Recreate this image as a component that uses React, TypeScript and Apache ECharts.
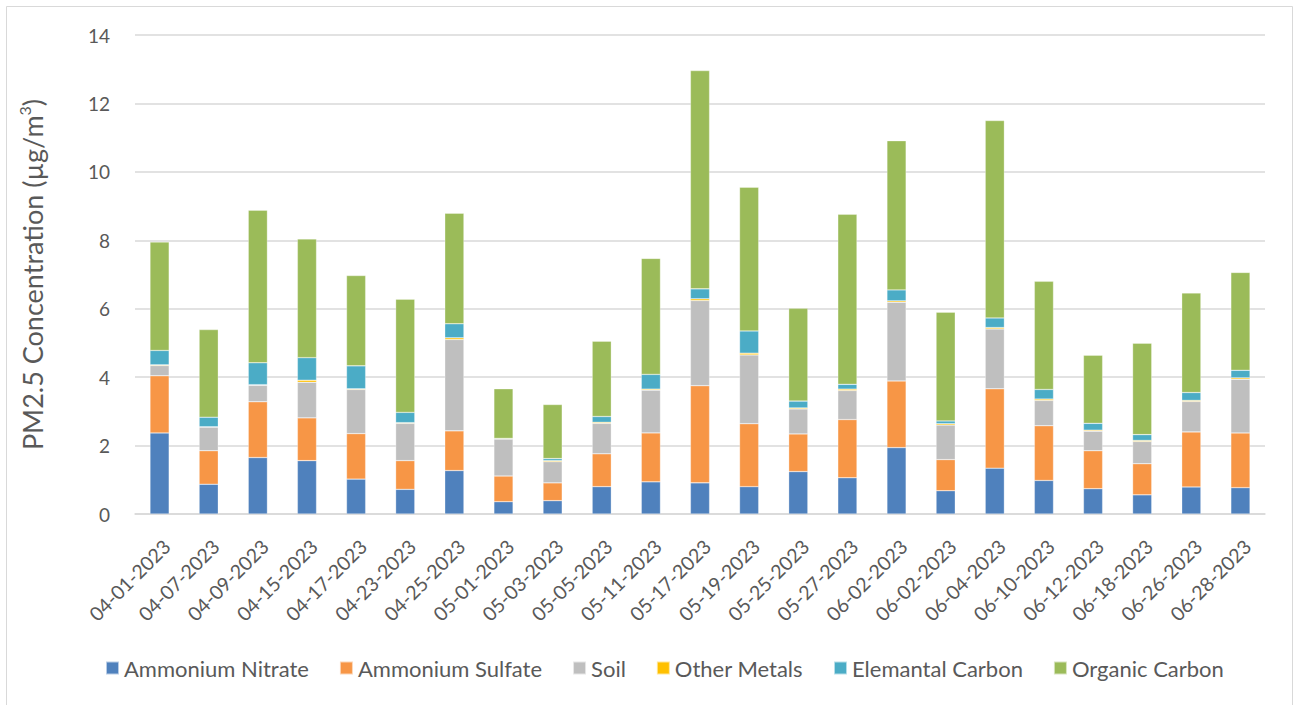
import React, { useEffect, useRef } from "react";
import * as echarts from "echarts";

const categories = [
  "04-01-2023", "04-07-2023", "04-09-2023", "04-15-2023", "04-17-2023", "04-23-2023",
  "04-25-2023", "05-01-2023", "05-03-2023", "05-05-2023", "05-11-2023", "05-17-2023",
  "05-19-2023", "05-25-2023", "05-27-2023", "06-02-2023", "06-02-2023", "06-04-2023",
  "06-10-2023", "06-12-2023", "06-18-2023", "06-26-2023", "06-28-2023",
];

const ammoniumNitrate = [2.37, 0.87, 1.65, 1.56, 1.02, 0.72, 1.27, 0.36, 0.39, 0.80, 0.94, 0.91, 0.80, 1.24, 1.06, 1.94, 0.68, 1.34, 0.98, 0.74, 0.56, 0.79, 0.77];
const ammoniumSulfate = [1.67, 0.98, 1.63, 1.25, 1.33, 0.84, 1.16, 0.75, 0.52, 0.96, 1.43, 2.84, 1.84, 1.10, 1.70, 1.95, 0.91, 2.32, 1.60, 1.11, 0.91, 1.61, 1.60];
const soil = [0.30, 0.69, 0.48, 1.04, 1.29, 1.09, 2.67, 1.08, 0.62, 0.89, 1.25, 2.49, 2.01, 0.73, 0.85, 2.30, 1.01, 1.75, 0.74, 0.57, 0.65, 0.89, 1.57];
const otherMetals = [0.02, 0.01, 0.02, 0.06, 0.02, 0.02, 0.05, 0.01, 0.03, 0.03, 0.03, 0.05, 0.05, 0.03, 0.04, 0.04, 0.04, 0.04, 0.04, 0.03, 0.03, 0.03, 0.04];
const elementalCarbon = [0.42, 0.28, 0.64, 0.66, 0.67, 0.30, 0.41, 0.01, 0.06, 0.17, 0.43, 0.29, 0.65, 0.20, 0.14, 0.32, 0.08, 0.28, 0.28, 0.20, 0.17, 0.23, 0.22];
const organicCarbon = [3.17, 2.56, 4.46, 3.47, 2.64, 3.31, 3.23, 1.45, 1.58, 2.20, 3.39, 6.38, 4.20, 2.71, 4.97, 4.36, 3.18, 5.77, 3.16, 1.99, 2.67, 2.91, 2.86];

const seriesNames = ["Ammonium Nitrate", "Ammonium Sulfate", "Soil", "Other Metals", "Elemantal Carbon", "Organic Carbon"];
const seriesData = [ammoniumNitrate, ammoniumSulfate, soil, otherMetals, elementalCarbon, organicCarbon];
const colors = ["#4F81BD", "#F79646", "#BFBFBF", "#FFC000", "#4BACC6", "#9BBB59"];

const FONT = "Lato, sans-serif";
const TEXT = "#595959";

export default function App() {
  const ref = useRef<HTMLDivElement>(null);
  useEffect(() => {
    if (!ref.current) return;
    const chart = echarts.init(ref.current, null, { renderer: "svg" });
    chart.setOption({
      animation: false,
      color: colors,
      textStyle: { fontFamily: FONT },
      graphic: [
        {
          type: "rect",
          shape: { x: 6.5, y: 6.5, width: 1286, height: 720 },
          style: { fill: "none", stroke: "#D9D9D9", lineWidth: 1 },
          silent: true,
          z: -1,
        },
      ],
      grid: { left: 135, right: 30, top: 35, bottom: 191 },
      legend: {
        top: 652,
        left: 100,
        itemWidth: 13,
        itemHeight: 13,
        itemGap: 30,
        icon: "rect",
        textStyle: { fontSize: 22, color: TEXT, fontFamily: FONT },
        data: seriesNames,
      },
      xAxis: {
        type: "category",
        data: categories,
        axisLine: { lineStyle: { color: "#D9D9D9", width: 1.5 } },
        axisTick: { show: false },
        axisLabel: {
          rotate: 45,
          fontSize: 19.5,
          color: TEXT,
          margin: 36,
          interval: 0,
          fontFamily: FONT,
          padding: [0, -10, 0, 0],
        },
      },
      yAxis: {
        type: "value",
        min: 0,
        max: 14,
        interval: 2,
        name: "PM2.5 Concentration (µg/m{sup|3})",
        nameLocation: "middle",
        nameGap: 87,
        nameRotate: 90,
        nameTextStyle: {
          fontSize: 27,
          color: TEXT,
          fontFamily: FONT,
          lineHeight: 32,
          rich: {
            sup: { fontSize: 16, color: TEXT, verticalAlign: "top", lineHeight: 18, fontFamily: FONT },
          },
        },
        axisLine: { show: false },
        axisTick: { show: false },
        axisLabel: { fontSize: 19, color: TEXT, margin: 25, fontFamily: FONT },
        splitLine: { lineStyle: { color: "#D9D9D9", width: 1.5 } },
      },
      series: seriesData.map((d, i) => ({
        name: seriesNames[i],
        type: "bar",
        stack: "total",
        data: d,
        barWidth: "39%",
        itemStyle: { color: colors[i], borderColor: "rgba(255,255,255,0.6)", borderWidth: 0.5 },
      })),
    });
    return () => chart.dispose();
  }, []);
  return (
    <div
      ref={ref}
      style={{ position: "absolute", left: 0, top: 0, width: 1295, height: 705 }}
    />
  );
}
